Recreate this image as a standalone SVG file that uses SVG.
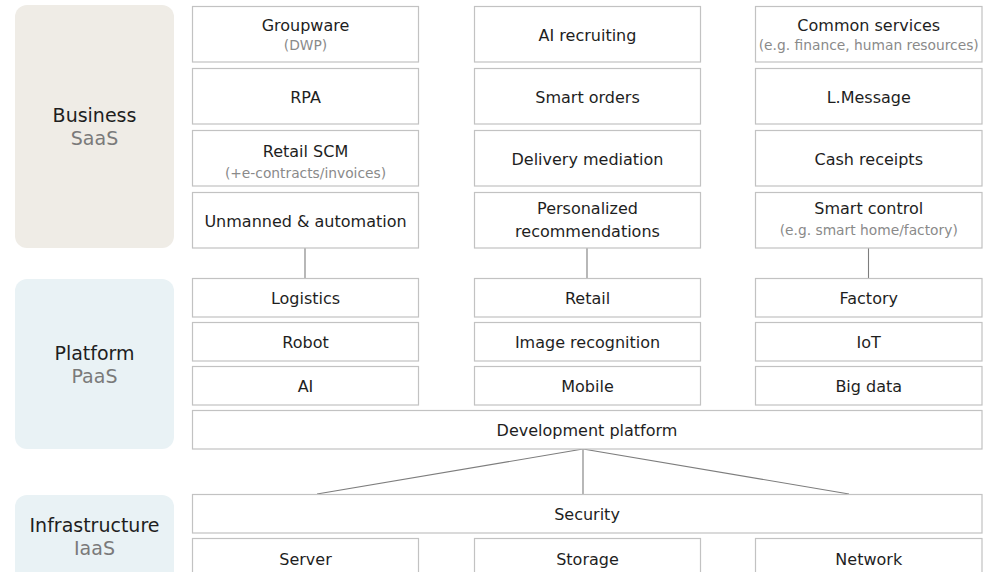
<svg xmlns="http://www.w3.org/2000/svg" width="989" height="572" viewBox="0 0 989 572">
  <style>
    .panel-saas { fill: #efece6; }
    .panel-blue { fill: #e9f2f5; }
    .box { fill: #ffffff; stroke: #c2c2c2; stroke-width: 1.2; }
    .t { font-family: "DejaVu Sans", "Liberation Sans", sans-serif; font-size: 16px; fill: #1e1e1e; text-anchor: middle; }
    .s { font-family: "DejaVu Sans", "Liberation Sans", sans-serif; font-size: 13.8px; fill: #8a8a8a; text-anchor: middle; }
    .lt { font-family: "DejaVu Sans", "Liberation Sans", sans-serif; font-size: 19px; fill: #1e1e1e; text-anchor: middle; }
    .ls { font-family: "DejaVu Sans", "Liberation Sans", sans-serif; font-size: 19px; fill: #7a7a7a; text-anchor: middle; }
    .conn { stroke: #7d7d7d; stroke-width: 1.1; fill: none; }
  </style>

  <!-- Layer panels -->
  <g id="layer-business">
    <rect class="panel-saas" x="15" y="5" width="159" height="243" rx="12"/>
    <text class="lt" x="94.5" y="122">Business</text>
    <text class="ls" x="94.5" y="145">SaaS</text>
  </g>
  <g id="layer-platform">
    <rect class="panel-blue" x="15" y="279" width="159" height="170" rx="12"/>
    <text class="lt" x="94.5" y="360">Platform</text>
    <text class="ls" x="94.5" y="383">PaaS</text>
  </g>
  <g id="layer-infrastructure">
    <rect class="panel-blue" x="15" y="495" width="159" height="110" rx="12"/>
    <text class="lt" x="94.5" y="532">Infrastructure</text>
    <text class="ls" x="94.5" y="555">IaaS</text>
  </g>

  <!-- Connectors -->
  <g id="connectors">
    <line class="conn" x1="305" y1="248" x2="305" y2="278.5"/>
    <line class="conn" x1="587" y1="248" x2="587" y2="278.5"/>
    <line class="conn" x1="868.5" y1="248" x2="868.5" y2="278.5"/>
    <line class="conn" x1="583" y1="449" x2="583" y2="494"/>
    <line class="conn" x1="583" y1="449" x2="317" y2="494"/>
    <line class="conn" x1="583" y1="449" x2="849" y2="494"/>
  </g>

  <!-- SaaS column 1 -->
  <g id="groupware">
    <rect class="box" x="192.5" y="6.5" width="226" height="55.5"/>
    <text class="t" x="305.5" y="30.5">Groupware</text>
    <text class="s" x="305.5" y="50">(DWP)</text>
  </g>
  <g id="rpa">
    <rect class="box" x="192.5" y="68.5" width="226" height="55.5"/>
    <text class="t" x="305.5" y="102.5">RPA</text>
  </g>
  <g id="retail-scm">
    <rect class="box" x="192.5" y="130.5" width="226" height="55.5"/>
    <text class="t" x="305.5" y="157">Retail SCM</text>
    <text class="s" x="305.5" y="178">(+e-contracts/invoices)</text>
  </g>
  <g id="unmanned-automation">
    <rect class="box" x="192.5" y="192.5" width="226" height="55.5"/>
    <text class="t" x="305.5" y="226.5">Unmanned &amp; automation</text>
  </g>

  <!-- SaaS column 2 -->
  <g id="ai-recruiting">
    <rect class="box" x="474.5" y="6.5" width="226" height="55.5"/>
    <text class="t" x="587.5" y="40.5">AI recruiting</text>
  </g>
  <g id="smart-orders">
    <rect class="box" x="474.5" y="68.5" width="226" height="55.5"/>
    <text class="t" x="587.5" y="102.5">Smart orders</text>
  </g>
  <g id="delivery-mediation">
    <rect class="box" x="474.5" y="130.5" width="226" height="55.5"/>
    <text class="t" x="587.5" y="164.5">Delivery mediation</text>
  </g>
  <g id="personalized-recommendations">
    <rect class="box" x="474.5" y="192.5" width="226" height="55.5"/>
    <text class="t" x="587.5" y="214">Personalized</text>
    <text class="t" x="587.5" y="237">recommendations</text>
  </g>

  <!-- SaaS column 3 -->
  <g id="common-services">
    <rect class="box" x="755.5" y="6.5" width="226.5" height="55.5"/>
    <text class="t" x="868.75" y="30.5">Common services</text>
    <text class="s" x="868.75" y="49.5">(e.g. finance, human resources)</text>
  </g>
  <g id="l-message">
    <rect class="box" x="755.5" y="68.5" width="226.5" height="55.5"/>
    <text class="t" x="868.75" y="102.5">L.Message</text>
  </g>
  <g id="cash-receipts">
    <rect class="box" x="755.5" y="130.5" width="226.5" height="55.5"/>
    <text class="t" x="868.75" y="164.5">Cash receipts</text>
  </g>
  <g id="smart-control">
    <rect class="box" x="755.5" y="192.5" width="226.5" height="55.5"/>
    <text class="t" x="868.75" y="214">Smart control</text>
    <text class="s" x="868.75" y="235">(e.g. smart home/factory)</text>
  </g>

  <!-- PaaS -->
  <g id="logistics">
    <rect class="box" x="192.5" y="278.5" width="226" height="38.5"/>
    <text class="t" x="305.5" y="303.5">Logistics</text>
  </g>
  <g id="robot">
    <rect class="box" x="192.5" y="322.5" width="226" height="38.5"/>
    <text class="t" x="305.5" y="347.5">Robot</text>
  </g>
  <g id="ai">
    <rect class="box" x="192.5" y="366.5" width="226" height="38.5"/>
    <text class="t" x="305.5" y="391.5">AI</text>
  </g>
  <g id="retail">
    <rect class="box" x="474.5" y="278.5" width="226" height="38.5"/>
    <text class="t" x="587.5" y="303.5">Retail</text>
  </g>
  <g id="image-recognition">
    <rect class="box" x="474.5" y="322.5" width="226" height="38.5"/>
    <text class="t" x="587.5" y="347.5">Image recognition</text>
  </g>
  <g id="mobile">
    <rect class="box" x="474.5" y="366.5" width="226" height="38.5"/>
    <text class="t" x="587.5" y="391.5">Mobile</text>
  </g>
  <g id="factory">
    <rect class="box" x="755.5" y="278.5" width="226.5" height="38.5"/>
    <text class="t" x="868.75" y="303.5">Factory</text>
  </g>
  <g id="iot">
    <rect class="box" x="755.5" y="322.5" width="226.5" height="38.5"/>
    <text class="t" x="868.75" y="347.5">IoT</text>
  </g>
  <g id="big-data">
    <rect class="box" x="755.5" y="366.5" width="226.5" height="38.5"/>
    <text class="t" x="868.75" y="391.5">Big data</text>
  </g>
  <g id="development-platform">
    <rect class="box" x="192.5" y="410.5" width="789.5" height="38.5"/>
    <text class="t" x="587" y="435.5">Development platform</text>
  </g>

  <!-- IaaS -->
  <g id="security">
    <rect class="box" x="192.5" y="494.5" width="789.5" height="38.5"/>
    <text class="t" x="587" y="519.5">Security</text>
  </g>
  <g id="server">
    <rect class="box" x="192.5" y="538.5" width="226" height="50"/>
    <text class="t" x="305.5" y="565">Server</text>
  </g>
  <g id="storage">
    <rect class="box" x="474.5" y="538.5" width="226" height="50"/>
    <text class="t" x="587.5" y="565">Storage</text>
  </g>
  <g id="network">
    <rect class="box" x="755.5" y="538.5" width="226.5" height="50"/>
    <text class="t" x="868.75" y="565">Network</text>
  </g>
</svg>
